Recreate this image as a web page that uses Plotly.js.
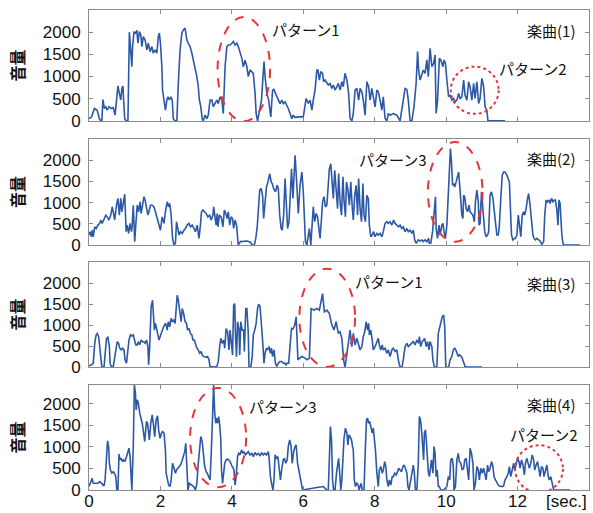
<!DOCTYPE html>
<html>
<head>
<meta charset="utf-8">
<script src="https://cdn.plot.ly/plotly-3.0.1.min.js"></script>
<style>html,body{margin:0;padding:0;background:#fff;}#chart{width:593px;height:513px;}</style>
</head>
<body>
<div id="chart"></div>
<script>
// ---- data (time in seconds, volume) ----
var t1 = [0,0.07,0.15,0.23,0.29,0.33,0.36,0.39,0.43,0.47,0.51,0.56,0.62,0.68,0.73,0.77,0.81,0.85,0.89,0.92,0.95,0.97,1.0,1.04,1.09,1.13,1.17,1.2,1.22,1.26,1.3,1.34,1.37,1.41,1.45,1.48,1.52,1.57,1.62,1.66,1.71,1.76,1.8,1.85,1.9,1.94,1.97,2.0,2.04,2.06,2.1,2.14,2.18,2.21,2.25,2.29,2.33,2.36,2.41,2.46,2.5,2.55,2.6,2.64,2.69,2.74,2.78,2.83,2.88,2.92,2.97,3.02,3.06,3.09,3.13,3.17,3.2,3.25,3.3,3.34,3.39,3.44,3.48,3.53,3.58,3.62,3.67,3.72,3.76,3.81,3.86,3.9,3.95,4.0,4.04,4.09,4.14,4.18,4.23,4.28,4.32,4.37,4.42,4.46,4.51,4.56,4.6,4.65,4.68,4.72,4.77,4.83,4.86,4.9,4.93,4.98,5.03,5.09,5.14,5.18,5.22,5.26,5.3,5.35,5.4,5.44,5.49,5.54,5.58,5.63,5.68,5.72,5.77,5.86,6.0,6.08,6.14,6.19,6.24,6.28,6.33,6.38,6.41,6.45,6.49,6.54,6.57,6.61,6.66,6.7,6.75,6.8,6.84,6.89,6.94,6.98,7.03,7.08,7.12,7.17,7.22,7.27,7.31,7.36,7.4,7.45,7.5,7.55,7.59,7.64,7.68,7.73,7.78,7.83,7.87,7.92,7.96,8.01,8.06,8.1,8.15,8.2,8.24,8.29,8.34,8.38,8.43,8.52,8.62,8.66,8.71,8.8,8.85,8.9,8.94,8.99,9.04,9.1,9.16,9.2,9.23,9.27,9.32,9.36,9.41,9.46,9.5,9.55,9.6,9.65,9.69,9.72,9.76,9.81,9.85,9.91,9.94,9.98,10.02,10.07,10.11,10.16,10.21,10.25,10.3,10.35,10.39,10.44,10.49,10.53,10.58,10.63,10.67,10.72,10.77,10.81,10.86,10.91,10.95,11.0,11.05,11.09,11.14,11.17,11.65];
var v1 = [50,90,280,240,50,0,0,480,280,320,240,320,280,300,130,470,790,620,470,730,785,470,50,0,0,2000,1600,1220,1675,2000,1980,2040,1750,2015,1940,1675,1900,1825,1600,1750,1560,1675,1525,1600,1525,1900,1980,1750,1220,690,470,240,470,540,470,540,470,50,0,0,845,1600,1980,2050,2090,1825,1750,1675,1525,1370,1220,1000,770,470,320,50,0,130,50,130,470,470,320,390,470,390,540,470,165,1220,1675,1710,1710,1750,1790,1710,1750,1675,1560,1410,1220,1370,1220,1000,1150,1110,1070,620,165,0,240,470,845,1335,1000,620,470,90,690,710,620,540,470,390,470,390,430,350,280,165,50,130,75,90,90,505,392,468,242,468,700,1147,1147,921,1109,1072,883,921,845,808,845,732,808,694,770,845,694,883,770,1072,921,619,53,0,166,694,732,468,732,656,468,128,883,770,468,732,543,317,694,656,468,242,543,53,0,166,128,166,128,53,0,468,732,710,468,0,0,317,845,1562,1147,921,1072,1147,1072,1374,996,1638,1223,1298,1487,166,468,1411,1374,1223,1374,1298,921,543,581,468,505,430,468,619,505,543,921,581,468,883,770,468,845,505,883,392,505,958,770,317,242,0,0];

var t2 = [0,0.03,0.07,0.09,0.12,0.16,0.2,0.25,0.3,0.33,0.37,0.42,0.47,0.51,0.56,0.61,0.65,0.68,0.72,0.77,0.81,0.85,0.89,0.92,0.96,1.0,1.04,1.07,1.11,1.15,1.19,1.21,1.24,1.28,1.31,1.35,1.39,1.43,1.46,1.5,1.54,1.57,1.61,1.65,1.69,1.72,1.77,1.82,1.86,1.91,1.96,2.0,2.05,2.1,2.14,2.19,2.23,2.26,2.3,2.34,2.38,2.42,2.45,2.49,2.52,2.56,2.61,2.66,2.7,2.75,2.8,2.84,2.89,2.94,2.98,3.03,3.08,3.12,3.15,3.19,3.24,3.28,3.33,3.38,3.42,3.47,3.49,3.52,3.56,3.59,3.61,3.65,3.7,3.75,3.79,3.83,3.87,3.9,3.94,3.98,4.02,4.05,4.09,4.13,4.16,4.18,4.24,4.33,4.43,4.52,4.57,4.63,4.67,4.71,4.74,4.78,4.82,4.86,4.89,4.93,4.97,5.01,5.06,5.1,5.13,5.17,5.22,5.27,5.3,5.34,5.38,5.41,5.45,5.49,5.53,5.56,5.6,5.64,5.67,5.71,5.75,5.77,5.82,5.86,5.91,5.96,6.0,6.03,6.06,6.1,6.14,6.17,6.21,6.25,6.28,6.32,6.36,6.4,6.43,6.47,6.51,6.54,6.58,6.62,6.66,6.69,6.73,6.77,6.81,6.84,6.88,6.92,6.96,6.99,7.03,7.07,7.11,7.14,7.18,7.21,7.25,7.29,7.33,7.37,7.4,7.44,7.48,7.52,7.55,7.59,7.63,7.67,7.7,7.74,7.78,7.82,7.85,7.89,7.93,7.97,8.01,8.06,8.1,8.15,8.2,8.24,8.29,8.34,8.38,8.43,8.48,8.53,8.57,8.62,8.67,8.71,8.76,8.8,8.85,8.9,8.94,8.99,9.04,9.08,9.12,9.16,9.22,9.27,9.32,9.36,9.41,9.46,9.51,9.53,9.57,9.62,9.67,9.7,9.72,9.76,9.8,9.83,9.88,9.91,9.94,9.98,10.02,10.06,10.09,10.12,10.15,10.18,10.21,10.24,10.28,10.32,10.35,10.38,10.41,10.44,10.47,10.49,10.52,10.56,10.6,10.64,10.67,10.71,10.75,10.79,10.82,10.86,10.9,10.92,10.95,10.99,11.02,11.05,11.08,11.12,11.16,11.19,11.23,11.27,11.31,11.34,11.38,11.42,11.46,11.49,11.53,11.57,11.61,11.65,11.7,11.75,11.77,11.8,11.83,11.87,11.91,11.94,11.98,12.02,12.05,12.09,12.13,12.17,12.2,12.24,12.28,12.31,12.35,12.39,12.43,12.46,12.5,12.54,12.59,12.63,12.68,12.73,12.76,12.8,12.84,12.88,12.91,12.95,12.99,13.03,13.06,13.1,13.13,13.16,13.19,13.21,13.24,13.27,13.31,13.75];
var v2 = [235,315,195,350,195,430,390,470,510,590,510,590,705,665,590,705,900,785,590,940,1100,705,1100,785,1060,1200,315,470,275,510,315,470,940,80,470,940,785,1020,745,980,1140,1060,900,705,825,940,940,900,785,625,470,350,665,510,785,1020,900,980,705,155,0,40,550,315,235,315,275,350,390,470,510,430,470,390,315,470,155,470,785,825,785,745,665,705,590,705,900,705,470,745,430,705,665,430,825,745,625,785,470,665,625,390,590,470,235,0,80,95,95,65,0,0,155,430,860,1295,1335,1175,625,1020,1370,1490,1685,1490,1450,1335,1255,1410,1335,705,390,350,705,1570,860,390,550,1255,1800,1100,1800,2120,1410,745,1410,1725,1255,785,80,0,315,390,0,625,900,550,745,665,390,155,625,1020,1140,900,940,1335,1800,1920,1410,1100,1765,1175,860,1685,1020,705,1610,1060,665,1490,1295,940,1490,900,590,1175,1410,705,1570,860,550,1450,705,550,1175,1100,470,195,235,315,195,275,235,275,195,315,510,550,510,550,470,590,510,470,430,470,390,430,315,390,315,350,275,350,120,40,120,95,120,80,120,80,155,40,40,315,940,1140,390,155,470,235,470,510,315,155,470,1255,1725,2275,1960,1410,1450,1370,1490,1650,1725,1410,1020,705,625,1175,1140,860,785,940,785,745,705,550,1020,1295,1020,470,510,1255,940,470,315,195,235,315,1175,1255,1100,860,470,235,235,470,1100,1650,1725,1725,1650,1530,1490,860,235,120,155,155,235,705,470,195,705,785,705,860,1100,1215,940,550,235,155,120,155,120,95,15,80,705,1060,1020,1060,980,1100,1020,1060,1060,825,470,1060,980,470,235,40,0,0];

var t3 = [0,0.07,0.12,0.16,0.2,0.23,0.27,0.31,0.33,0.36,0.42,0.46,0.49,0.53,0.57,0.59,0.62,0.68,0.72,0.75,0.79,0.83,0.86,0.9,0.94,0.98,1.01,1.05,1.09,1.12,1.16,1.2,1.24,1.27,1.31,1.35,1.38,1.42,1.46,1.5,1.53,1.57,1.61,1.65,1.67,1.7,1.74,1.78,1.8,1.83,1.86,1.89,1.93,1.96,2.0,2.04,2.07,2.11,2.15,2.19,2.22,2.26,2.3,2.33,2.37,2.41,2.44,2.47,2.5,2.54,2.58,2.61,2.65,2.69,2.73,2.76,2.8,2.84,2.88,2.91,2.95,2.99,3.02,3.06,3.1,3.14,3.17,3.21,3.25,3.28,3.32,3.36,3.39,3.51,3.58,3.62,3.66,3.69,3.73,3.77,3.8,3.84,3.88,3.92,3.95,3.99,4.02,4.05,4.08,4.1,4.13,4.16,4.2,4.22,4.25,4.29,4.33,4.35,4.39,4.42,4.46,4.48,4.53,4.57,4.6,4.64,4.68,4.72,4.75,4.79,4.83,4.86,4.9,4.93,4.97,5.0,5.04,5.08,5.11,5.14,5.18,5.22,5.26,5.3,5.35,5.39,5.44,5.48,5.52,5.55,5.59,5.63,5.67,5.71,5.76,5.8,5.85,5.9,5.96,6.05,6.1,6.17,6.22,6.3,6.38,6.45,6.54,6.59,6.66,6.73,6.8,6.86,6.92,6.98,7.03,7.08,7.13,7.17,7.22,7.26,7.31,7.36,7.4,7.45,7.5,7.54,7.59,7.64,7.68,7.73,7.76,7.8,7.83,7.85,7.89,7.93,7.96,8.01,8.06,8.1,8.13,8.17,8.21,8.24,8.29,8.34,8.38,8.43,8.48,8.52,8.57,8.62,8.67,8.71,8.76,8.8,8.85,8.9,8.94,8.99,9.04,9.08,9.13,9.18,9.23,9.25,9.29,9.33,9.37,9.4,9.44,9.48,9.52,9.55,9.6,9.63,9.67,9.74,9.78,9.82,9.85,9.89,9.93,9.96,9.99,10.07,10.11,10.16,10.2,10.24,10.27,10.3,10.34,10.37,10.41,10.45,10.49,10.53,10.58,11.0];
var v3 = [30,55,95,565,765,800,725,410,95,0,0,410,685,710,490,95,15,15,250,490,605,565,450,410,450,410,175,95,410,645,765,740,765,685,530,530,605,530,645,605,605,565,645,490,55,490,1435,1590,1355,880,1040,880,765,645,765,880,920,1000,1040,880,1080,960,1160,1080,1120,1040,1470,1710,1590,1315,1080,1395,1275,1080,1040,880,920,800,765,645,645,530,450,410,330,370,290,250,235,235,250,175,15,0,15,135,490,685,565,645,450,920,840,410,880,490,290,1470,1510,800,250,1080,880,290,1080,880,880,370,1395,1395,800,0,0,250,765,880,1040,1395,1495,1435,1080,645,95,330,450,410,490,330,450,250,410,95,15,95,135,135,95,95,55,95,95,490,920,905,1000,1195,173,213,252,213,173,213,1394,1354,1394,1354,1748,1315,1354,1276,1000,882,1079,803,843,685,173,0,409,567,882,488,803,528,685,528,409,488,724,882,1079,882,1040,764,882,646,409,488,606,685,528,409,528,409,449,331,409,252,409,449,370,409,134,0,0,173,488,567,488,528,567,606,528,646,567,724,488,606,646,685,488,606,409,606,488,173,0,0,803,961,1118,1197,1236,961,0,0,173,252,409,449,409,331,252,291,268,213,134,16,0,0];

var t4 = [0,0.04,0.06,0.09,0.12,0.16,0.2,0.25,0.3,0.34,0.39,0.42,0.45,0.49,0.52,0.55,0.57,0.6,0.64,0.68,0.71,0.75,0.78,0.81,0.84,0.87,0.9,0.94,0.97,1.01,1.05,1.08,1.12,1.15,1.18,1.2,1.24,1.27,1.3,1.32,1.35,1.38,1.42,1.45,1.49,1.53,1.56,1.58,1.61,1.64,1.67,1.69,1.73,1.77,1.8,1.84,1.88,1.92,1.95,1.99,2.03,2.06,2.1,2.14,2.16,2.19,2.23,2.27,2.3,2.34,2.38,2.42,2.45,2.49,2.53,2.56,2.6,2.64,2.68,2.71,2.74,2.77,2.81,2.86,2.93,2.98,3.02,3.06,3.1,3.13,3.17,3.2,3.24,3.28,3.31,3.35,3.39,3.43,3.46,3.49,3.52,3.55,3.58,3.6,3.63,3.66,3.69,3.71,3.74,3.77,3.8,3.84,3.88,3.91,3.95,3.99,4.03,4.06,4.09,4.12,4.16,4.19,4.23,4.27,4.31,4.34,4.38,4.42,4.46,4.51,4.56,4.6,4.65,4.69,4.74,4.79,4.83,4.88,4.92,4.97,5.02,5.04,5.08,5.12,5.15,5.18,5.21,5.25,5.29,5.32,5.36,5.4,5.44,5.47,5.51,5.55,5.58,5.62,5.66,5.69,5.73,5.77,5.8,5.84,5.88,5.91,5.98,6.19,6.38,6.56,6.61,6.66,6.7,6.73,6.76,6.79,6.82,6.85,6.89,6.93,6.97,6.99,7.02,7.05,7.08,7.11,7.14,7.18,7.22,7.25,7.28,7.31,7.35,7.38,7.4,7.43,7.46,7.5,7.54,7.56,7.59,7.62,7.65,7.7,7.74,7.77,7.8,7.83,7.86,7.89,7.93,7.96,7.98,8.02,8.06,8.1,8.13,8.17,8.21,8.24,8.28,8.31,8.34,8.38,8.41,8.45,8.49,8.52,8.56,8.6,8.64,8.67,8.71,8.75,8.79,8.82,8.86,8.9,8.93,8.96,9.01,9.05,9.08,9.11,9.14,9.18,9.22,9.25,9.28,9.31,9.34,9.37,9.39,9.42,9.45,9.48,9.5,9.53,9.56,9.59,9.63,9.66,9.69,9.72,9.75,9.78,9.81,9.85,9.93,9.97,10.02,10.06,10.1,10.13,10.17,10.2,10.22,10.26,10.3,10.34,10.37,10.41,10.45,10.49,10.52,10.56,10.6,10.63,10.67,10.71,10.75,10.78,10.82,10.86,10.9,10.93,10.97,11.01,11.05,11.08,11.12,11.16,11.19,11.23,11.27,11.31,11.34,11.38,11.42,11.46,11.49,11.53,11.57,11.61,11.65,11.7,11.74,11.77,11.81,11.85,11.89,11.92,11.96,12.0,12.04,12.07,12.11,12.15,12.19,12.22,12.26,12.3,12.33,12.37,12.41,12.45,12.48,12.52,12.56,12.6,12.63,12.67,12.71,12.74,12.78,12.82,12.86,12.89,12.93,12.97,13.01,13.47];
var v4 = [80,155,235,270,155,155,170,155,195,155,115,95,235,890,1140,1010,620,465,390,425,390,310,0,0,835,700,735,660,700,660,775,850,970,775,0,0,1010,2440,2250,1860,2095,2015,1785,1705,1550,1320,1125,1320,1590,1550,1240,1165,1550,1745,1550,1240,1630,1720,1395,1200,1320,1355,1320,930,390,235,115,80,235,620,505,390,465,505,545,580,660,775,890,1085,545,0,155,115,80,0,155,620,1010,1240,1125,775,545,425,390,310,235,1010,1940,2440,1785,1550,1665,1550,1705,1510,1165,465,155,390,620,700,720,700,660,580,505,465,115,310,775,850,815,930,850,890,815,850,890,815,850,775,870,815,850,790,870,815,850,815,890,775,310,115,0,235,815,735,775,545,235,505,700,735,620,700,1010,1165,1010,620,890,1010,1045,620,390,310,0,40,60,80,40,0,0,700,1475,1165,235,0,0,390,735,735,390,0,235,930,1200,1435,1320,1045,1280,1240,1165,1010,930,235,80,155,115,0,115,155,0,0,1010,1630,1665,1550,1590,1475,1320,1435,1280,930,390,80,465,545,390,465,660,545,235,80,235,115,310,310,390,350,425,505,465,425,545,580,505,390,80,0,235,505,580,390,0,0,620,1705,1630,1395,1010,700,1320,1395,1085,545,425,310,465,700,390,1010,850,310,465,80,80,0,0,40,80,310,235,700,735,545,0,80,700,850,660,620,465,505,700,735,390,235,970,850,620,0,155,545,465,235,505,390,505,350,235,580,425,505,660,545,310,235,155,115,95,80,80,95,235,310,390,545,310,465,620,465,620,735,660,505,700,580,350,620,735,620,505,620,815,700,465,580,660,465,310,545,505,310,465,580,310,235,310,115,0,0];

var xTicks = [0, 2, 4, 6, 8, 10, 12];
var yTicks = [0, 500, 1000, 1500, 2000];
var songLabels = ['楽曲(1)', '楽曲(2)', '楽曲(3)', '楽曲(4)'];
var yTitle = '音量';
var xUnit = '[sec.]';

// ---- drawing ----
var lineColor = '#2c58a8';
var red = '#e8333a';
var times = [t1, t2, t3, t4];
var vols = [v1, v2, v3, v4];
var domains = [[0.769, 1.0], [0.5104, 0.731], [0.256, 0.475], [0, 0.219]];
var yMax = [2500, 2500, 2500, 2440];
var numFont = {family: 'Liberation Sans, Arial, sans-serif', size: 17, color: '#111'};

var traces = [];
var layout = {
  width: 593, height: 513,
  margin: {l: 89, r: 4, t: 10, b: 23},
  paper_bgcolor: '#fff', plot_bgcolor: '#fff',
  showlegend: false,
  font: numFont,
  shapes: [], annotations: []
};
var jp = {family: 'Noto Sans CJK JP, sans-serif', size: 15, color: '#111'};

for (var i = 0; i < 4; i++) {
  var n = i === 0 ? '' : String(i + 1);
  traces.push({
    x: times[i], y: vols[i], type: 'scatter', mode: 'lines',
    xaxis: 'x' + n, yaxis: 'y' + n,
    line: {color: lineColor, width: 1.6}, hoverinfo: 'skip'
  });
  var common = {
    showline: true, linecolor: '#8c8c8c', linewidth: 1, mirror: 'ticks',
    ticks: 'inside', ticklen: 4, tickcolor: '#8c8c8c', tickwidth: 1,
    showgrid: false, zeroline: false, fixedrange: true,
    tickfont: numFont
  };
  layout['xaxis' + n] = Object.assign({}, common, {
    domain: [0, 1], range: [0, 14], tickmode: 'array', tickvals: xTicks,
    showticklabels: i === 3, anchor: 'y' + n, ticklabelstandoff: -4
  });
  layout['yaxis' + n] = Object.assign({}, common, {
    domain: domains[i], range: [0, yMax[i]], tickmode: 'array', tickvals: yTicks,
    anchor: 'x' + n, ticklabelstandoff: 4
  });
  layout.annotations.push({
    xref: 'paper', yref: 'paper', x: -0.144, y: (domains[i][0] + domains[i][1]) / 2,
    text: '<b>' + yTitle + '</b>', textangle: -90, showarrow: false,
    xanchor: 'center', yanchor: 'middle',
    font: {family: 'Noto Sans CJK JP, sans-serif', size: 16, color: '#111'}
  });
}

function note(n, x, y, text, anchor) {
  layout.annotations.push({xref: 'x' + n, yref: 'y' + n, x: x, y: y, text: text,
    showarrow: false, xanchor: anchor || 'center', yanchor: 'middle', font: jp});
}
function ellipse(n, x0, x1, y0, y1, dash) {
  layout.shapes.push({type: 'circle', xref: 'x' + n, yref: 'y' + n,
    x0: x0, x1: x1, y0: y0, y1: y1,
    line: {color: red, width: 2, dash: dash}});
}

// panel 1
ellipse('', 3.6, 5.07, -10, 2340, 'dash');
ellipse('', 10.13, 11.47, 158, 1223, 'dot');
note('', 6.08, 2065, 'パターン1');
note('', 12.42, 1187, 'パターン2');
note('', 13.67, 2034, songLabels[0], 'right');
// panel 2
ellipse('2', 9.49, 11.02, 78, 2430, 'dash');
note('2', 8.52, 2014, 'パターン3');
note('2', 13.67, 2037, songLabels[1], 'right');
// panel 3
ellipse('3', 5.89, 7.45, 5, 2342, 'dash');
note('3', 8.4, 2039, 'パターン1');
note('3', 13.67, 1984, songLabels[2], 'right');
// panel 4
ellipse('4', 2.83, 4.40, 63, 2365, 'dash');
ellipse('4', 11.93, 13.27, -60, 1040, 'dot');
note('4', 5.43, 1930, 'パターン3');
note('4', 12.73, 1280, 'パターン2');
note('4', 13.67, 1977, songLabels[3], 'right');

layout.annotations.push({
  xref: 'paper', yref: 'paper', x: 1.0, y: -0.025, text: xUnit, showarrow: false,
  xanchor: 'right', yanchor: 'middle', font: numFont
});

Plotly.newPlot('chart', traces, layout, {displayModeBar: false, staticPlot: true});
</script>
</body>
</html>
